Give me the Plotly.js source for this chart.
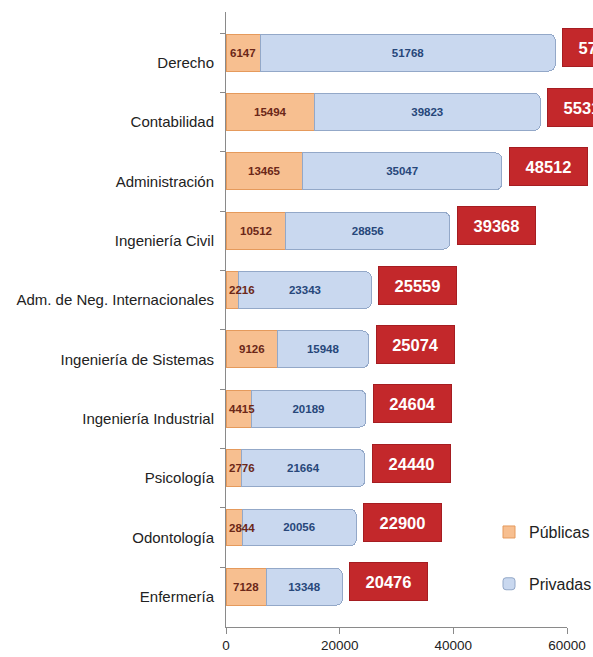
<!DOCTYPE html>
<html>
<head>
<meta charset="utf-8">
<script src="https://cdn.plot.ly/plotly-3.0.1.min.js"></script>
<style>
  html, body { margin: 0; padding: 0; background: #fff; overflow: hidden; }
  #chart { width: 593px; height: 657px; }
</style>
</head>
<body>
<div id="chart"></div>
<script>
// Graduates per career, split by public and private universities
const careers = [
  'Derecho',
  'Contabilidad',
  'Administración',
  'Ingeniería Civil',
  'Adm. de Neg. Internacionales',
  'Ingeniería de Sistemas',
  'Ingeniería Industrial',
  'Psicología',
  'Odontología',
  'Enfermería'
];
const publicas = [6147, 15494, 13465, 10512, 2216, 9126, 4415, 2776, 2844, 7128];
const privadas = [51768, 39823, 35047, 28856, 23343, 15948, 20189, 21664, 20056, 13348];
const totals = [57915, 55317, 48512, 39368, 25559, 25074, 24604, 24440, 22900, 20476];
const xTicks = [0, 20000, 40000, 60000];

const FONT = '"Liberation Sans", Arial, sans-serif';

const X_MAX = 60000;
const PLOT_W = 341;          // plot area width in px
const barWidth = 0.62;
const barOffset = -0.48;
const barShift = 10;         // px the bar centre sits above the category centre

const traces = [
  {
    type: 'bar',
    orientation: 'h',
    name: 'Públicas',
    y: careers,
    x: publicas,
    width: barWidth,
    offset: barOffset,
    marker: { color: '#f7bf90', line: { color: '#e59a5c', width: 1 } },
    hoverinfo: 'x+y+name'
  },
  {
    type: 'bar',
    orientation: 'h',
    name: 'Privadas',
    y: careers,
    x: privadas,
    width: barWidth,
    offset: barOffset,
    text: privadas.map(String),
    textposition: 'inside',
    insidetextanchor: 'middle',
    constraintext: 'none',
    textangle: 0,
    cliponaxis: false,
    textfont: { family: FONT, size: 11.5, color: '#27477a', weight: 'bold' },
    marker: { color: '#c9d8ef', line: { color: '#93a8c8', width: 1 }, cornerradius: 6 },
    hoverinfo: 'x+y+name'
  }
];

// Public-university counts, written over the orange segment (kept above the blue bars)
const publicLabels = careers.map((c, i) => {
  const segPx = publicas[i] / X_MAX * PLOT_W;
  const narrow = segPx < 30;
  return {
    x: narrow ? 0 : publicas[i] / 2,
    y: c,
    xref: 'x',
    yref: 'y',
    xanchor: narrow ? 'left' : 'center',
    yanchor: 'middle',
    xshift: narrow ? 1 : 0,
    yshift: barShift,
    text: '<b>' + publicas[i] + '</b>',
    showarrow: false,
    font: { family: FONT, size: 11.5, color: '#6b2718' }
  };
});

// Red boxes with the total for each career, right of each bar
const totalLabels = careers.map((c, i) => ({
  x: totals[i],
  y: c,
  xref: 'x',
  yref: 'y',
  xanchor: 'left',
  yanchor: 'middle',
  xshift: 7,
  yshift: 15,
  text: '<b>' + totals[i] + '</b>',
  showarrow: false,
  width: 75,
  height: 35,
  align: 'center',
  valign: 'middle',
  bgcolor: '#c3282b',
  bordercolor: '#a51d21',
  borderwidth: 1,
  font: { family: FONT, size: 16.5, color: '#ffffff' }
}));

const layout = {
  width: 593,
  height: 657,
  margin: { l: 226, r: 26, t: 12, b: 30, pad: 0, autoexpand: false },
  paper_bgcolor: '#ffffff',
  plot_bgcolor: '#ffffff',
  barmode: 'stack',
  font: { family: FONT, size: 15, color: '#222222' },
  showlegend: true,
  legend: {
    x: 0.7713,
    y: 0.182,
    xanchor: 'left',
    yanchor: 'top',
    traceorder: 'grouped',
    tracegroupgap: 28,
    font: { family: FONT, size: 16, color: '#222222' },
    bgcolor: 'rgba(0,0,0,0)'
  },
  xaxis: {
    range: [0, X_MAX],
    tickmode: 'array',
    tickvals: xTicks,
    ticktext: xTicks.map(String),
    ticks: 'outside',
    ticklen: 6,
    tickcolor: '#8a8a8a',
    showline: true,
    linecolor: '#8a8a8a',
    linewidth: 1,
    showgrid: false,
    zeroline: false,
    automargin: false,
    tickfont: { family: FONT, size: 13.5, color: '#222222' }
  },
  yaxis: {
    type: 'category',
    categoryorder: 'array',
    categoryarray: careers,
    range: [9.507, -0.854],
    ticks: 'outside',
    tickson: 'boundaries',
    ticklen: 5,
    tickcolor: '#8a8a8a',
    ticklabelstandoff: 8,
    showline: true,
    linecolor: '#8a8a8a',
    linewidth: 1,
    showgrid: false,
    zeroline: false,
    automargin: false,
    tickfont: { family: FONT, size: 15, color: '#222222' }
  },
  annotations: publicLabels.concat(totalLabels)
};

traces.forEach(t => { t.legendgroup = t.name; });

Plotly.newPlot('chart', traces, layout, { displayModeBar: false, staticPlot: true });
</script>
</body>
</html>
